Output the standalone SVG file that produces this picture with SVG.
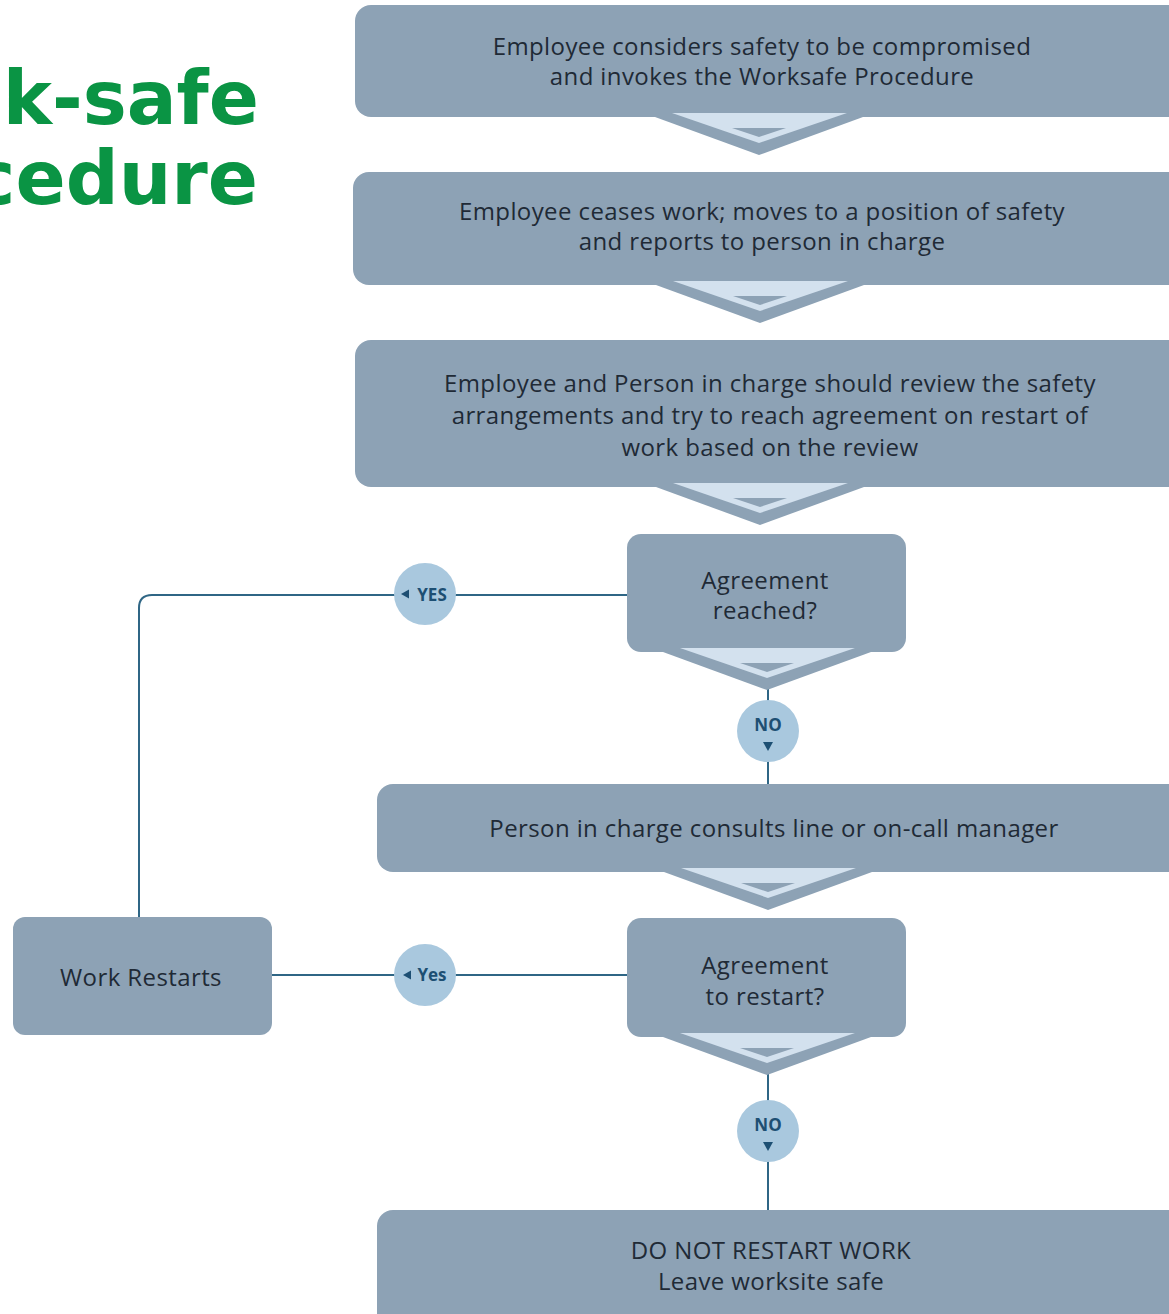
<svg xmlns="http://www.w3.org/2000/svg" width="1169" height="1314" viewBox="0 0 1169 1314">
<style>
.box{fill:#8da2b5}
.t{font-family:"Open Sans","Liberation Sans",sans-serif;font-size:24px;letter-spacing:0.4px;fill:#1f2a36;text-anchor:middle}
.title{font-family:"DejaVu Sans",sans-serif;font-weight:bold;font-size:74px;fill:#0a9444;text-anchor:end}
.ln{fill:none;stroke:#2f6685;stroke-width:2}
.circ{fill:#a9c8de}
.ct{font-family:"Open Sans","Liberation Sans",sans-serif;font-weight:bold;font-size:17px;fill:#1d4f73;text-anchor:middle}
.tri{fill:#1d4f73}
</style>
<defs>
<g id="chev">
<path d="M-104,0 L104,0 L0,38 Z" fill="#8da2b5"/>
<path d="M-87,-4 L88,-4 L0,26 Z" fill="#d3e1ee"/>
<path d="M-27,11 L27,11 L0,20 Z" fill="#8da2b5"/>
</g>
</defs>
<rect width="1169" height="1314" fill="#ffffff"/>
<g id="title">
<text class="title" x="259" y="124">k-safe</text>
<text class="title" x="258" y="204">cedure</text>
</g>
<g id="connectors">
<path class="ln" d="M627,595 H152 Q139,595 139,608 V917"/>
<path class="ln" d="M272,975 H627"/>
<path class="ln" d="M768,688 V784"/>
<path class="ln" d="M768,1072 V1210"/>
</g>
<g id="n1">
<rect class="box" x="355" y="5" width="840" height="112" rx="16"/>
<use href="#chev" x="759" y="117"/>
<text class="t" x="762" y="55">Employee considers safety to be compromised</text>
<text class="t" x="762" y="85">and invokes the Worksafe Procedure</text>
</g>
<g id="n2">
<rect class="box" x="353" y="172" width="840" height="113" rx="16"/>
<use href="#chev" x="760" y="285"/>
<text class="t" x="762" y="220">Employee ceases work; moves to a position of safety</text>
<text class="t" x="762" y="250">and reports to person in charge</text>
</g>
<g id="n3">
<rect class="box" x="355" y="340" width="840" height="147" rx="16"/>
<use href="#chev" x="760" y="487"/>
<text class="t" x="770" y="392">Employee and Person in charge should review the safety</text>
<text class="t" x="770" y="424">arrangements and try to reach agreement on restart of</text>
<text class="t" x="770" y="456">work based on the review</text>
</g>
<g id="n4">
<rect class="box" x="627" y="534" width="279" height="118" rx="14"/>
<use href="#chev" x="767" y="652"/>
<text class="t" x="765" y="589">Agreement</text>
<text class="t" x="765" y="619">reached?</text>
</g>
<g id="yes1">
<circle class="circ" cx="425" cy="594" r="31"/>
<path class="tri" d="M401,594 L409,589.5 L409,598.5 Z"/>
<text class="ct" x="432" y="601">YES</text>
</g>
<g id="no1">
<circle class="circ" cx="768" cy="731" r="31"/>
<text class="ct" x="768" y="731">NO</text>
<path class="tri" d="M763,742 L773,742 L768,751 Z"/>
</g>
<g id="n5">
<rect class="box" x="377" y="784" width="820" height="88" rx="16"/>
<use href="#chev" x="768" y="872"/>
<text class="t" x="774" y="837">Person in charge consults line or on-call manager</text>
</g>
<g id="n6">
<rect class="box" x="627" y="918" width="279" height="119" rx="14"/>
<use href="#chev" x="767" y="1037"/>
<text class="t" x="765" y="974">Agreement</text>
<text class="t" x="765" y="1005">to restart?</text>
</g>
<g id="yes2">
<circle class="circ" cx="425" cy="975" r="31"/>
<path class="tri" d="M403,975 L411,970.5 L411,979.5 Z"/>
<text class="ct" x="432" y="981">Yes</text>
</g>
<g id="no2">
<circle class="circ" cx="768" cy="1131" r="31"/>
<text class="ct" x="768" y="1131">NO</text>
<path class="tri" d="M763,1142 L773,1142 L768,1151 Z"/>
</g>
<g id="n7">
<rect class="box" x="377" y="1210" width="820" height="130" rx="16"/>
<text class="t" x="771" y="1259">DO NOT RESTART WORK</text>
<text class="t" x="771" y="1290">Leave worksite safe</text>
</g>
<g id="n8">
<rect class="box" x="13" y="917" width="259" height="118" rx="12"/>
<text class="t" x="141" y="986">Work Restarts</text>
</g>
</svg>
